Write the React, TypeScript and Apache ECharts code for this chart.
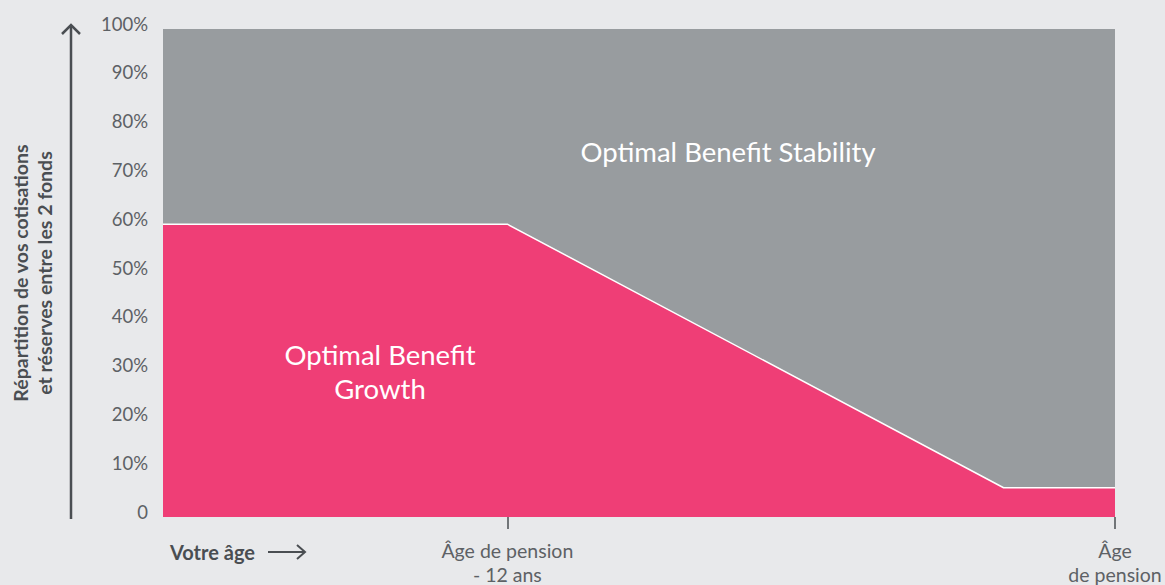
import React, { useEffect, useRef } from "react";
import * as echarts from "echarts";

const ageValues = [-18.8, -12, -2.2, 0];
const growthShare = [60, 60, 6, 6];
const stabilityShare = [40, 40, 94, 94];
const xTickValues = [-12, 0];
const xTickLabels = ["Âge de pension\n- 12 ans", "Âge\nde pension"];
const seriesNames = ["Optimal Benefit Growth", "Optimal Benefit Stability"];

const FONT = "Lato, 'Open Sans', sans-serif";
const TEXT = "#5d6165";
const DARK = "#4a4e52";

export default function App() {
  const ref = useRef<HTMLDivElement>(null);
  useEffect(() => {
    document.body.style.margin = "0";
    const chart = echarts.init(ref.current!, null, { renderer: "svg" });
    chart.setOption({
      animation: false,
      backgroundColor: "#e8e9eb",
      grid: { left: 163, right: 50, top: 29, bottom: 68, outerBoundsMode: "none", containLabel: false },
      xAxis: {
        type: "value",
        min: ageValues[0],
        max: ageValues[ageValues.length - 1],
        offset: 3,
        axisLine: { show: false },
        splitLine: { show: false },
        axisTick: { show: true, customValues: xTickValues, length: 12, lineStyle: { color: DARK, width: 1.5 } },
        axisLabel: {
          customValues: xTickValues,
          formatter: (v: number) => xTickLabels[xTickValues.indexOf(v)] ?? "",
          color: TEXT,
          fontFamily: FONT,
          fontSize: 19.5,
          lineHeight: 24,
          margin: 18,
        },
      },
      yAxis: {
        type: "value",
        min: 0,
        max: 100,
        interval: 10,
        axisLine: { show: false },
        axisTick: { show: false },
        splitLine: { show: false },
        axisLabel: {
          formatter: (v: number) => (v === 0 ? "0" : v + "%"),
          color: TEXT,
          fontFamily: FONT,
          fontSize: 18.5,
          margin: 15,
          verticalAlign: "bottom",
          lineHeight: 11,
        },
      },
      series: [
        {
          name: seriesNames[1],
          type: "line",
          symbol: "none",
          data: ageValues.map((x, i) => [x, growthShare[i] + stabilityShare[i]]),
          lineStyle: { width: 0 },
          areaStyle: { color: "#989c9f", opacity: 1 },
          z: 2,
        },
        {
          name: seriesNames[0],
          type: "line",
          symbol: "none",
          data: ageValues.map((x, i) => [x, growthShare[i]]),
          lineStyle: { color: "#ffffff", width: 1.5 },
          areaStyle: { color: "#ef3e76", opacity: 1 },
          z: 3,
        },
      ],
      graphic: [
        { type: "line", shape: { x1: 71, y1: 519, x2: 71, y2: 25 }, style: { stroke: DARK, lineWidth: 2.5 } },
        { type: "polyline", shape: { points: [[62, 34], [71, 25], [80, 34]] }, style: { stroke: DARK, lineWidth: 2.5, fill: "none" } },
        {
          type: "text",
          x: 32,
          y: 273,
          rotation: Math.PI / 2,
          style: {
            text: "Répartition de vos cotisations\net réserves entre les 2 fonds",
            fontFamily: FONT,
            fontSize: 19.5,
            fontWeight: "bold",
            lineHeight: 24,
            fill: DARK,
            align: "center",
            verticalAlign: "middle",
          },
        },
        {
          type: "text",
          x: 170,
          y: 552,
          style: { text: "Votre âge", fontFamily: FONT, fontSize: 20, fontWeight: "bold", fill: DARK, align: "left", verticalAlign: "middle" },
        },
        { type: "line", shape: { x1: 268, y1: 552, x2: 305, y2: 552 }, style: { stroke: DARK, lineWidth: 2 } },
        { type: "polyline", shape: { points: [[297, 545], [305, 552], [297, 559]] }, style: { stroke: DARK, lineWidth: 2, fill: "none" } },
        {
          type: "text",
          x: 728,
          y: 151,
          z: 10,
          style: { text: seriesNames[1], fontFamily: FONT, fontSize: 27.5, fill: "#ffffff", align: "center", verticalAlign: "middle" },
        },
        {
          type: "text",
          x: 380,
          y: 371,
          z: 10,
          style: { text: "Optimal Benefit\nGrowth", fontFamily: FONT, fontSize: 27.5, lineHeight: 34, fill: "#ffffff", align: "center", verticalAlign: "middle" },
        },
      ],
    });
    return () => chart.dispose();
  }, []);
  return <div ref={ref} style={{ position: "fixed", left: 0, top: 0, width: 1165, height: 585 }} />;
}
